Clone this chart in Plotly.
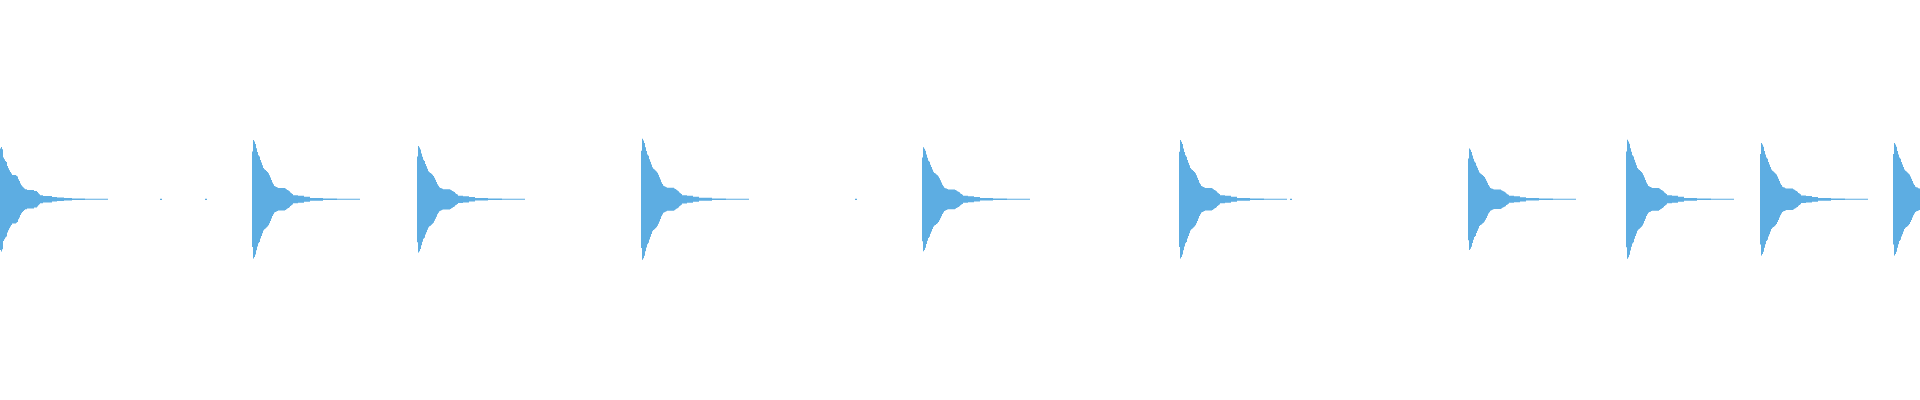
import plotly.graph_objects as go

# envelope of one hit (pixel offset from onset -> half amplitude), read from the 2nd hit
template_offsets = list(range(26)) + [26, 33, 34, 35, 36, 37, 38, 39, 40, 41, 46, 52, 58, 71, 85, 108]
template_amp = [47.7, 59.3, 57.7, 55.3, 51, 47.3, 44, 42.7, 39.3, 36.7, 34, 31.3, 30, 29.3, 28.3, 27.3,
                26, 24, 21.7, 19.3, 16.7, 15, 13.3, 12.7, 12.3, 11.7,
                11.3, 10.7, 10, 9.3, 8.7, 8, 6.7, 6, 5.3, 4, 3.5, 2.5, 1.4, 0.8, 0.5, 0]
template_peak = 59.3

# first hit is cut off at the left edge
first_offsets = list(range(13)) + [16, 17, 18, 19, 20, 21, 22, 23, 24, 25,
                                   27, 34, 37, 38, 39, 40, 43, 52, 57, 64, 72, 85, 108]
first_amp = [50.7, 52.3, 50, 41.7, 40, 38.3, 37.3, 33.3, 31, 29, 27.3, 25.7, 24.3,
             23.5, 22.7, 20, 18.3, 15.7, 14, 12.7, 11.7, 10.7, 10,
             9.3, 8.3, 7.3, 6, 5, 4, 3.3, 2.3, 1.7, 1.3, 0.8, 0.5, 0]

hit_starts = [252, 417, 641, 922, 1179, 1468, 1626, 1760, 1893]
hit_peaks = [59.3, 53.3, 60.5, 52, 59.2, 50.8, 59.5, 56.3, 56.3]

# isolated tiny blips
blip_x = [160, 205, 855, 1290]
blip_amp = [0.6, 0.6, 0.6, 0.6]

xs = []
up = []

for o, a in zip(first_offsets, first_amp):
    xs.append(o)
    up.append(a)

segments = []
for s, p in zip(hit_starts, hit_peaks):
    segments.append((s, [s + o for o in template_offsets], [a * p / template_peak for a in template_amp]))
for bx, ba in zip(blip_x, blip_amp):
    segments.append((bx, [bx, bx + 2], [ba, 0]))
segments.sort(key=lambda t: t[0])

for s, sx, sy in segments:
    xs.extend(sx)
    up.extend(sy)
xs.append(1920)
up.append(0)

low = [-v for v in up]
col = "#5dade2"

fig = go.Figure()
fig.add_trace(go.Scatter(x=xs, y=up, mode="lines", line=dict(width=0, shape="hv", color=col),
                         hoverinfo="skip", showlegend=False))
fig.add_trace(go.Scatter(x=xs, y=low, mode="lines", line=dict(width=0, shape="hv", color=col),
                         fill="tonexty", fillcolor=col, hoverinfo="skip", showlegend=False))

fig.update_layout(
    width=1920, height=400,
    margin=dict(l=0, r=0, t=0, b=0),
    paper_bgcolor="white", plot_bgcolor="white",
    xaxis=dict(range=[0, 1920], visible=False, fixedrange=True),
    yaxis=dict(range=[-200.7, 199.3], visible=False, fixedrange=True),
)

fig.write_html("out.html", config={"displayModeBar": False},
               post_script="document.body.style.margin='0';document.body.style.overflow='hidden';")
